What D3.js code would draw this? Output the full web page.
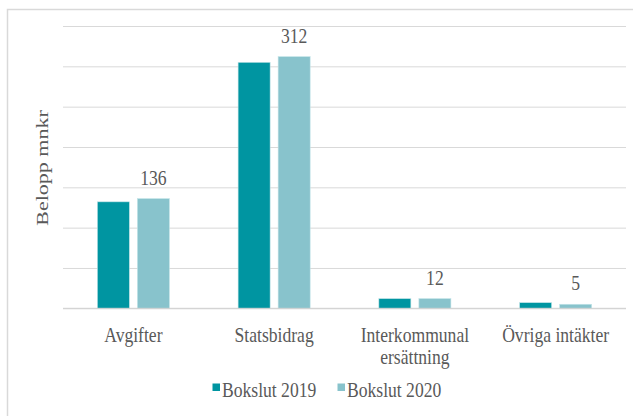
<!DOCTYPE html>
<html>
<head>
<meta charset="utf-8">
<script src="https://cdn.jsdelivr.net/npm/d3@7"></script>
<style>
	body { margin:0; background:#fff; }
	text { font-family: "Liberation Serif", "Times New Roman", serif; fill:#595959; }
</style>
</head>
<body>
<svg id="chart" width="633" height="416"></svg>
<script>
// data
var categories = ['Avgifter', 'Statsbidrag', 'Interkommunal\nersättning', 'Övriga intäkter'];
var seriesNames = ['Bokslut 2019', 'Bokslut 2020'];
var bokslut2019 = [132, 305, 12, 7];
var bokslut2020 = [136, 312, 12, 5];
var yTicks = [0, 50, 100, 150, 200, 250, 300, 350];
var colors = ['#0095a1', '#88c3cc'];

var svg = d3.select('#chart');
var W = 633, H = 416;
var pLeft = 63, pRight = 626, pTop = 26, pBottom = 308.3;
var sx = 0.8; // the text in the picture is narrow

// frame
svg.append('path')
	.attr('d', 'M7.5,' + H + ' V9.5 H' + W)
	.style('fill', 'none')
	.style('stroke', '#d9d9d9')
	.style('stroke-width', 1.5);

var y = d3.scaleLinear().domain([0, 350]).range([pBottom, pTop]);
var x0 = d3.scaleBand().domain(categories).range([pLeft, pRight]).paddingInner(0.488).paddingOuter(0.244);
var x1 = d3.scaleBand().domain(seriesNames).range([0, x0.bandwidth()]).paddingInner(0.2);

// grid
var yAxis = d3.axisLeft(y).tickValues(yTicks).tickSize(-(pRight - pLeft)).tickFormat('');
var g = svg.append('g').attr('transform', 'translate(' + pLeft + ',0)').call(yAxis);
g.select('.domain').remove();
g.selectAll('.tick line').style('stroke', '#d9d9d9').style('stroke-width', 1);

// bars
var rows = categories.map(function (c, i) {
	return { cat: c, vals: [bokslut2019[i], bokslut2020[i]] };
});
var groups = svg.selectAll('g.cat').data(rows).enter().append('g')
	.attr('class', 'cat')
	.attr('transform', function (d) { return 'translate(' + x0(d.cat) + ',0)'; });

groups.selectAll('rect').data(function (d) {
		return d.vals.map(function (v, j) { return { s: seriesNames[j], v: v, j: j }; });
	}).enter().append('rect')
	.attr('x', function (d) { return x1(d.s); })
	.attr('y', function (d) { return y(d.v); })
	.attr('width', x1.bandwidth())
	.attr('height', function (d) { return y(0) - y(d.v); })
	.style('fill', function (d) { return colors[d.j]; })
	.style('stroke', '#c4e4e8')
	.style('stroke-width', 0.6);

// value labels (2020 only)
groups.append('text')
	.attr('transform', function (d) {
		return 'translate(' + (x1(seriesNames[1]) + x1.bandwidth() / 2) + ',' + (y(d.vals[1]) - 14) + ') scale(' + sx + ',1)';
	})
	.style('text-anchor', 'middle')
	.style('font-size', '22px')
	.text(function (d) { return d.vals[1]; });

// category labels
var xAxis = d3.axisBottom(x0).tickSize(0).tickFormat('');
var ga = svg.append('g').attr('transform', 'translate(0,' + pBottom + ')').call(xAxis);
ga.select('.domain').style('stroke', '#d0d0d0').style('stroke-width', 1).attr('d', 'M' + pLeft + ',0H' + pRight);
ga.selectAll('.tick').each(function (c) {
	var lines = c.split('\n');
	var t = d3.select(this).append('text')
		.attr('transform', 'translate(0,34) scale(' + sx + ',1)')
		.style('text-anchor', 'middle')
		.style('font-size', '22px');
	lines.forEach(function (l, k) {
		t.append('tspan').attr('x', 0).attr('dy', k ? 22 : 0).text(l);
	});
});

// y title
svg.append('text')
	.attr('transform', 'translate(48,168) scale(' + sx + ',1) rotate(-90)')
	.style('text-anchor', 'middle')
	.style('font-size', '22px')
	.text('Belopp mnkr');

// legend
var legendX = [212.5, 337.5];
var lg = svg.selectAll('g.legend').data(seriesNames).enter().append('g')
	.attr('class', 'legend')
	.attr('transform', function (d, i) { return 'translate(' + legendX[i] + ',383.5)'; });
lg.append('rect').attr('width', 7.5).attr('height', 7.5)
	.style('fill', function (d, i) { return colors[i]; });
lg.append('text')
	.attr('transform', 'translate(9.5,13) scale(' + sx + ',1)')
	.style('font-size', '22px')
	.text(function (d) { return d; });
</script>
</body>
</html>
